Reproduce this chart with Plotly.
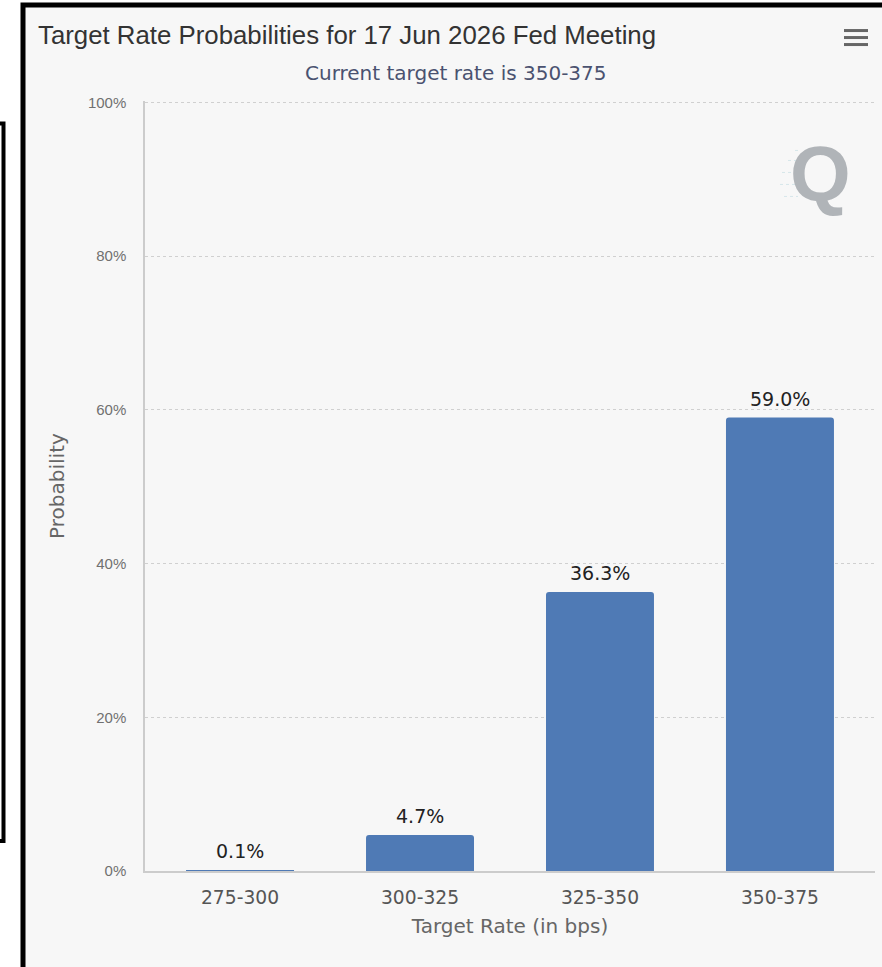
import plotly.graph_objects as go

# Target-rate buckets (bps) and their probabilities (%)
rates = ["275-300", "300-325", "325-350", "350-375"]
probabilities = [0.1, 4.7, 36.3, 59.0]
y_ticks = [0, 20, 40, 60, 80, 100]
y_tick_text = [f"{t}%" for t in y_ticks]

W, H = 882, 967
Y_TOP = 100.2  # a little headroom so the 100% gridline is drawn
L, R, B = 145, 7, 96
PW = W - L - R
PH = round(769 * Y_TOP / 100, 1)
T = H - B - PH


def px(x):
    return (x - L) / PW


def py(y):
    return (H - B - y) / PH


BAR = "#4f7ab5"
FONT = "DejaVu Sans"

fig = go.Figure(
    go.Bar(
        x=list(range(len(rates))),
        y=probabilities,
        width=0.6,
        marker=dict(color=BAR, line=dict(width=0), cornerradius=3),
        hoverinfo="skip",
    )
)

annotations = [
    dict(
        x=i, y=v, xref="x", yref="y", text=f"{v:.1f}%", showarrow=False,
        yanchor="middle", yshift=19,
        font=dict(family=FONT, size=19, color="#222222"),
    )
    for i, v in enumerate(probabilities)
]
annotations += [
    dict(
        x=px(456), y=py(72), xref="paper", yref="paper",
        text="Current target rate is 350-375", showarrow=False,
        xanchor="center", yanchor="middle",
        font=dict(family=FONT, size=20, color="#4a5270"),
    ),
    dict(
        x=px(820), y=py(174), xref="paper", yref="paper", text="<b>Q</b>",
        showarrow=False, xanchor="center", yanchor="middle",
        font=dict(family="Liberation Sans", size=78, color="#b0b4b8"),
    ),
]

shapes = [
    # chart frame
    dict(type="rect", xref="paper", yref="paper", layer="below",
         x0=px(23), x1=px(895), y0=py(4.5), y1=py(985),
         line=dict(color="black", width=5), fillcolor="#f7f7f7"),
    # neighbouring panel edge
    dict(type="rect", xref="paper", yref="paper", layer="below",
         x0=px(-20), x1=px(3.5), y0=py(123), y1=py(841),
         line=dict(color="black", width=4), fillcolor="white"),
]
# menu icon
for yy in (30, 37, 44):
    shapes.append(dict(type="line", xref="paper", yref="paper",
                       x0=px(844), x1=px(868), y0=py(yy), y1=py(yy),
                       line=dict(color="#666666", width=3)))
# faint speed lines beside the logo
for yy, x0 in ((150, 795), (160, 788), (172, 782), (184, 780), (196, 784)):
    shapes.append(dict(type="line", xref="paper", yref="paper",
                       x0=px(x0), x1=px(798), y0=py(yy), y1=py(yy),
                       line=dict(color="#d6e6ea", width=1, dash="dot")))

fig.update_layout(
    width=W, height=H,
    margin=dict(l=L, r=R, t=T, b=B, pad=0),
    paper_bgcolor="white",
    plot_bgcolor="rgba(0,0,0,0)",
    showlegend=False,
    title=dict(
        text="Target Rate Probabilities for 17 Jun 2026 Fed Meeting",
        xref="container", yref="container", x=38 / W, y=1 - 35 / H,
        xanchor="left", yanchor="middle",
        font=dict(family="Liberation Sans", size=25.8, color="#333333"),
    ),
    xaxis=dict(
        range=[-0.528, 3.528],
        tickmode="array", tickvals=list(range(len(rates))), ticktext=rates,
        tickfont=dict(family=FONT, size=18.7, color="#555555"),
        ticks="", ticklabelstandoff=9,
        showgrid=False, zeroline=False,
        showline=True, linecolor="#cccccc", linewidth=1.5,
        title=dict(text="Target Rate (in bps)", standoff=12,
                   font=dict(family=FONT, size=20, color="#666666")),
        fixedrange=True,
    ),
    yaxis=dict(
        range=[0, Y_TOP],
        tickmode="array", tickvals=y_ticks, ticktext=y_tick_text,
        tickfont=dict(family="Liberation Sans", size=15, color="#707070"),
        ticks="", ticklabelstandoff=14,
        showgrid=True, gridcolor="#d0d0d0", gridwidth=1.3, griddash="dot",
        zeroline=False,
        showline=True, linecolor="#cccccc", linewidth=1.5,
        title=dict(text="Probability", standoff=18,
                   font=dict(family=FONT, size=20, color="#666666")),
        fixedrange=True,
    ),
    annotations=annotations,
    shapes=shapes,
)

fig.write_html("out.html", config={"displayModeBar": False})
